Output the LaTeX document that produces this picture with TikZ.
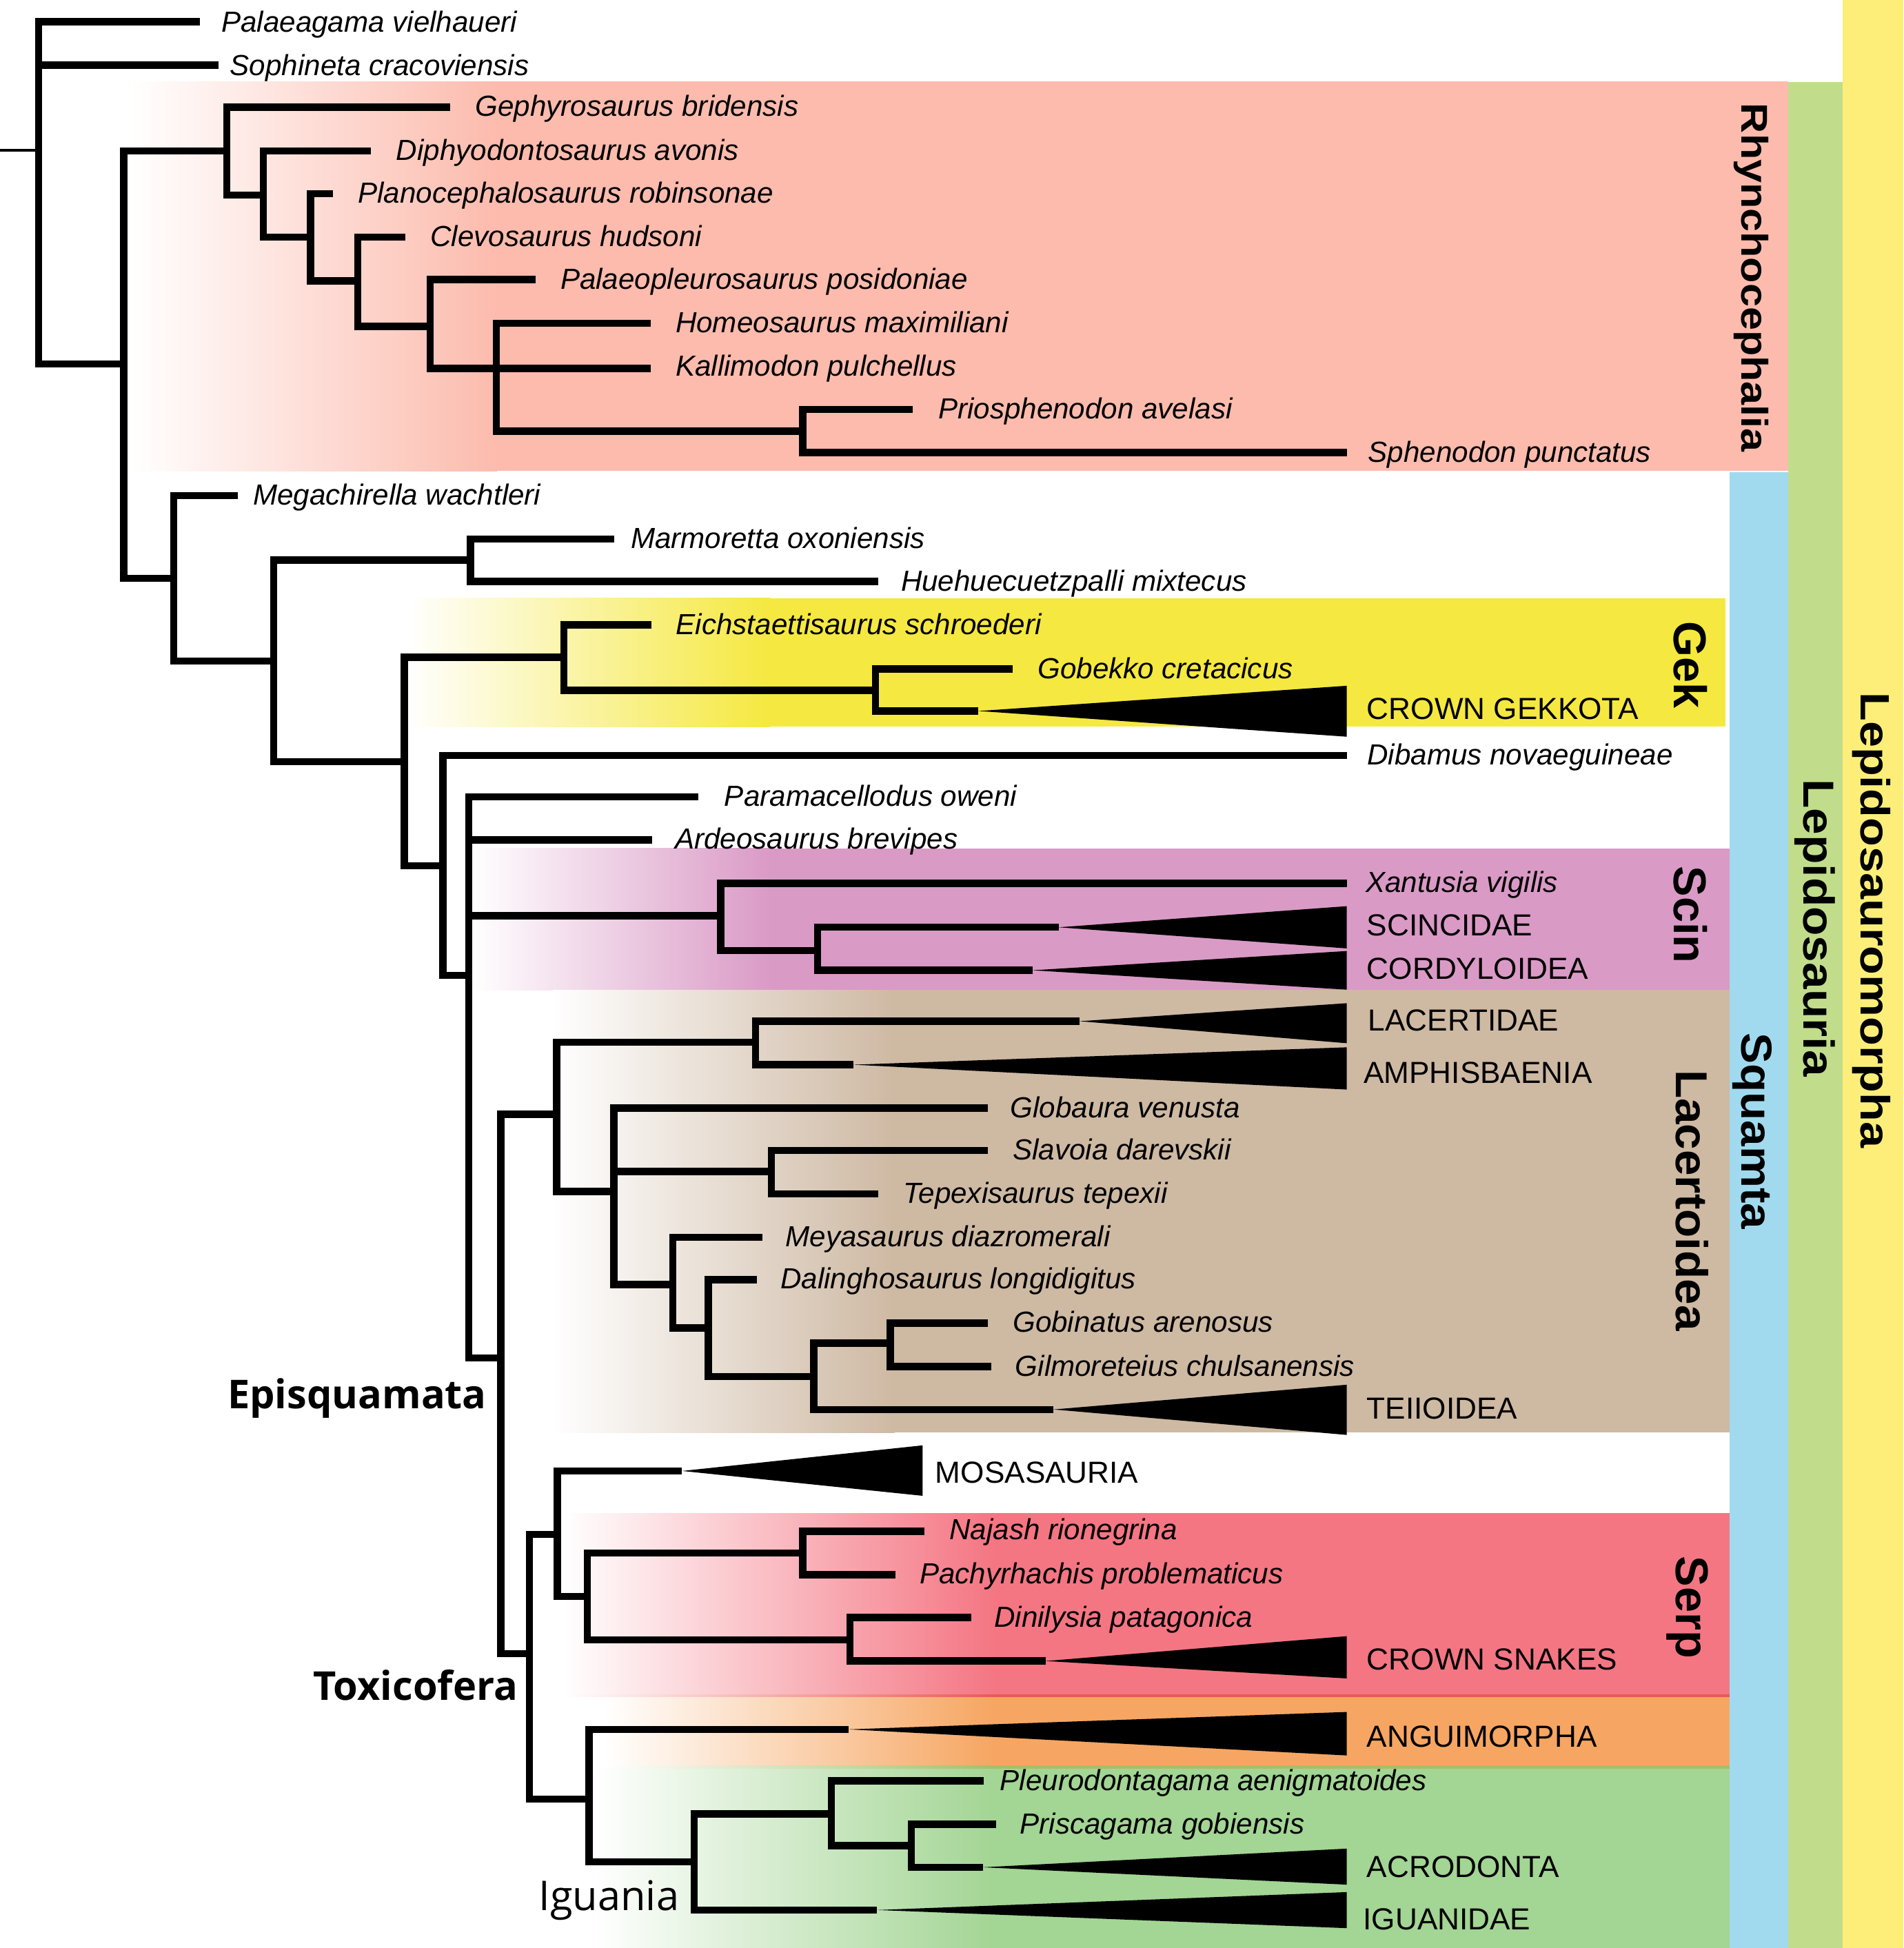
\documentclass[tikz,border=0pt]{standalone}
\usepackage{fontspec}
\setmainfont{Liberation Sans}
\newfontfamily\myr{Open Sans}
\usepackage{graphicx}
\begin{document}
\begin{tikzpicture}[x=1pt,y=-1pt]
\definecolor{cLmo}{RGB}{252,238,120}
\definecolor{cLep}{RGB}{193,221,140}
\definecolor{cSq}{RGB}{161,218,238}
\definecolor{cRhy}{RGB}{252,187,173}
\definecolor{cGek}{RGB}{245,232,64}
\definecolor{cSci}{RGB}{218,154,198}
\definecolor{cLac}{RGB}{206,185,163}
\definecolor{cSer}{RGB}{244,118,131}
\definecolor{cAng}{RGB}{246,166,98}
\definecolor{cIgu}{RGB}{163,213,148}
\definecolor{cRedL}{RGB}{236,88,84}
\definecolor{cOliv}{RGB}{168,190,106}
\tikzset{
  br/.style={line width=5.8pt, line join=miter},
  tri/.style={fill=black},
  tx/.style={anchor=base west, inner sep=0pt, font=\fontsize{23.4}{28}\selectfont\itshape},
  up/.style={anchor=base west, inner sep=0pt, font=\fontsize{24.5}{28}\selectfont},
  vl/.style={anchor=base west, inner sep=0pt, rotate=-90},
  grp/.style={anchor=base west, inner sep=0pt, font=\myr\fontsize{32}{36}\selectfont\bfseries}
}
\useasboundingbox (0,0) rectangle (1532,1568);
% ---------- backgrounds ----------
\fill[cLmo] (1483,0) rectangle (1532,1568);
\fill[cLep] (1439,66) rectangle (1483,1568);
\fill[cSq] (1392,380) rectangle (1439,1568);
\shade[left color=white,right color=cRhy] (105,65.5) rectangle (400,379);
\fill[cRhy] (399.5,65.5) rectangle (1439,379);
\shade[left color=white,right color=cGek] (326.5,481.5) rectangle (620,585);
\fill[cGek] (619.5,481.5) rectangle (1389,585);
\shade[left color=white,right color=cSci] (380,683) rectangle (620,797);
\fill[cSci] (619.5,683) rectangle (1392,797);
\shade[left color=white,right color=cLac] (445,797) rectangle (720,1153);
\fill[cLac] (719.5,797) rectangle (1392,1153);
\shade[left color=white,right color=cSer] (453,1218) rectangle (800,1365);
\fill[cSer] (799.5,1218) rectangle (1392,1365);
\shade[left color=white,right color=cAng] (486,1365) rectangle (800,1422);
\fill[cAng] (799.5,1365) rectangle (1392,1422);
\shade[left color=white,right color=cIgu] (478,1422) rectangle (800,1568);
\fill[cIgu] (799.5,1422) rectangle (1392,1568);
\shade[left color=white,right color=cRedL] (453,1364) rectangle (800,1366);
\fill[cRedL] (799.5,1364) rectangle (1392,1366);
\shade[left color=white,right color=cOliv] (486,1421) rectangle (800,1423.5);
\fill[cOliv] (799.5,1421) rectangle (1392,1423.5);
% ---------- coordinates ----------
\coordinate (stub) at (0,121);
\coordinate (r0) at (31,121);
\coordinate (palae) at (161,17.4);
\coordinate (soph) at (176,52.5);
\coordinate (lp) at (99.5,293);
\coordinate (rh) at (182.5,121.4);
\coordinate (geph) at (362.3,86.4);
\coordinate (r2) at (212,157);
\coordinate (diph) at (298.6,121.4);
\coordinate (r3) at (250,191);
\coordinate (plan) at (268,156);
\coordinate (r4) at (288,226);
\coordinate (clev) at (326.5,191);
\coordinate (r5) at (346.3,262.7);
\coordinate (ppleu) at (431.2,225);
\coordinate (r6) at (399.4,296.5);
\coordinate (home) at (524,260.3);
\coordinate (kall) at (524,296.5);
\coordinate (r7) at (646,347);
\coordinate (prio) at (734.8,329.6);
\coordinate (sphe) at (1084,364.3);
\coordinate (sq) at (139.8,465.5);
\coordinate (mega) at (191.5,399);
\coordinate (s2) at (220.3,532);
\coordinate (s3) at (378.6,450.7);
\coordinate (marm) at (494.5,433.8);
\coordinate (hueh) at (706.7,468);
\coordinate (s4) at (325.5,613);
\coordinate (g1) at (453.8,529);
\coordinate (eich) at (524.5,503);
\coordinate (g2) at (704.6,555.7);
\coordinate (gobe) at (815,538.4);
\coordinate (cga) at (787.5,572.3);
\coordinate (s5) at (356.5,697);
\coordinate (diba) at (1084,608);
\coordinate (s6) at (377.3,785);
\coordinate (para) at (562,641.5);
\coordinate (arde) at (525,676);
\coordinate (sc1) at (580,737);
\coordinate (xant) at (1084,711);
\coordinate (sc2) at (658,765);
\coordinate (scia) at (852,746.4);
\coordinate (cora) at (831,781);
\coordinate (e1) at (403,1093);
\coordinate (l1) at (448,897);
\coordinate (l2) at (608,839);
\coordinate (laca) at (869,822);
\coordinate (amph) at (687,857);
\coordinate (l3) at (494,959);
\coordinate (glob) at (795,892);
\coordinate (l4) at (621,943);
\coordinate (slav) at (795,926);
\coordinate (tepe) at (707,961);
\coordinate (l5) at (541.5,1034);
\coordinate (meya) at (613.5,996);
\coordinate (l6) at (570,1069);
\coordinate (dali) at (609,1030);
\coordinate (l7) at (655,1108);
\coordinate (l8) at (716.5,1081);
\coordinate (gobi) at (795,1065);
\coordinate (gilm) at (797.7,1100);
\coordinate (teia) at (848,1134.5);
\coordinate (t1) at (426,1331);
\coordinate (t2) at (448.7,1235);
\coordinate (mosa) at (549,1184);
\coordinate (sp1) at (472.6,1285);
\coordinate (sp2) at (646,1250);
\coordinate (naja) at (744,1232.7);
\coordinate (pach) at (721,1267.5);
\coordinate (sp3) at (684,1320);
\coordinate (dini) at (781.7,1302);
\coordinate (csa) at (841.5,1337);
\coordinate (t3) at (474,1448);
\coordinate (anga) at (683,1392);
\coordinate (i1) at (558.6,1498.6);
\coordinate (i2) at (669,1460);
\coordinate (pleu) at (792,1433.5);
\coordinate (i3) at (733.5,1485.7);
\coordinate (pris) at (801.5,1468.5);
\coordinate (acra) at (791,1503);
\coordinate (igua) at (705.8,1537.4);
% ---------- branches ----------
\draw[line width=2pt] (stub) -- (r0);
\draw[br] (r0) |- (palae);
\draw[br] (r0) |- (soph);
\draw[br] (r0) |- (lp);
\draw[br] (lp) |- (rh);
\draw[br] (lp) |- (sq);
\draw[br] (rh) |- (geph);
\draw[br] (rh) |- (r2);
\draw[br] (r2) |- (diph);
\draw[br] (r2) |- (r3);
\draw[br] (r3) |- (plan);
\draw[br] (r3) |- (r4);
\draw[br] (r4) |- (clev);
\draw[br] (r4) |- (r5);
\draw[br] (r5) |- (ppleu);
\draw[br] (r5) |- (r6);
\draw[br] (r6) |- (home);
\draw[br] (r6) |- (kall);
\draw[br] (r6) |- (r7);
\draw[br] (r7) |- (prio);
\draw[br] (r7) |- (sphe);
\draw[br] (sq) |- (mega);
\draw[br] (sq) |- (s2);
\draw[br] (s2) |- (s3);
\draw[br] (s2) |- (s4);
\draw[br] (s3) |- (marm);
\draw[br] (s3) |- (hueh);
\draw[br] (s4) |- (g1);
\draw[br] (s4) |- (s5);
\draw[br] (g1) |- (eich);
\draw[br] (g1) |- (g2);
\draw[br] (g2) |- (gobe);
\draw[br] (g2) |- (cga);
\draw[br] (s5) |- (diba);
\draw[br] (s5) |- (s6);
\draw[br] (s6) |- (para);
\draw[br] (s6) |- (arde);
\draw[br] (s6) |- (sc1);
\draw[br] (s6) |- (e1);
\draw[br] (sc1) |- (xant);
\draw[br] (sc1) |- (sc2);
\draw[br] (sc2) |- (scia);
\draw[br] (sc2) |- (cora);
\draw[br] (e1) |- (l1);
\draw[br] (e1) |- (t1);
\draw[br] (l1) |- (l2);
\draw[br] (l1) |- (l3);
\draw[br] (l2) |- (laca);
\draw[br] (l2) |- (amph);
\draw[br] (l3) |- (glob);
\draw[br] (l3) |- (l4);
\draw[br] (l3) |- (l5);
\draw[br] (l4) |- (slav);
\draw[br] (l4) |- (tepe);
\draw[br] (l5) |- (meya);
\draw[br] (l5) |- (l6);
\draw[br] (l6) |- (dali);
\draw[br] (l6) |- (l7);
\draw[br] (l7) |- (l8);
\draw[br] (l7) |- (teia);
\draw[br] (l8) |- (gobi);
\draw[br] (l8) |- (gilm);
\draw[br] (t1) |- (t2);
\draw[br] (t1) |- (t3);
\draw[br] (t2) |- (mosa);
\draw[br] (t2) |- (sp1);
\draw[br] (sp1) |- (sp2);
\draw[br] (sp1) |- (sp3);
\draw[br] (sp2) |- (naja);
\draw[br] (sp2) |- (pach);
\draw[br] (sp3) |- (dini);
\draw[br] (sp3) |- (csa);
\draw[br] (t3) |- (anga);
\draw[br] (t3) |- (i1);
\draw[br] (i1) |- (i2);
\draw[br] (i1) |- (igua);
\draw[br] (i2) |- (pleu);
\draw[br] (i2) |- (i3);
\draw[br] (i3) |- (pris);
\draw[br] (i3) |- (acra);
% ---------- collapsed clades ----------
\fill[tri] (cga) -- (1084,552) -- (1084,593) -- cycle;
\fill[tri] (scia) -- (1084,729.4) -- (1084,763.4) -- cycle;
\fill[tri] (cora) -- (1084,765.5) -- (1084,796.6) -- cycle;
\fill[tri] (laca) -- (1084,807.5) -- (1084,839.7) -- cycle;
\fill[tri] (amph) -- (1084,843) -- (1084,877) -- cycle;
\fill[tri] (teia) -- (1084,1114.6) -- (1084,1155) -- cycle;
\fill[tri] (mosa) -- (742.6,1163.4) -- (742.6,1204) -- cycle;
\fill[tri] (csa) -- (1084,1317) -- (1084,1351) -- cycle;
\fill[tri] (anga) -- (1084,1378) -- (1084,1413) -- cycle;
\fill[tri] (acra) -- (1084,1488) -- (1084,1517) -- cycle;
\fill[tri] (igua) -- (1084,1523) -- (1084,1552) -- cycle;
% ---------- taxon labels ----------
\node[tx] (Lpalae) at (178,26) {Palaeagama vielhaueri};
\node[tx] (Lsoph) at (185,60.5) {Sophineta cracoviensis};
\node[tx] (Lgeph) at (382.4,93.5) {Gephyrosaurus bridensis};
\node[tx] (Ldiph) at (318.7,129) {Diphyodontosaurus avonis};
\node[tx] (Lplan) at (288,163.5) {Planocephalosaurus robinsonae};
\node[tx] (Lclev) at (346.3,198.5) {Clevosaurus hudsoni};
\node[tx] (Lppleu) at (450.9,232.5) {Palaeopleurosaurus posidoniae};
\node[tx] (Lhome) at (543.6,267.8) {Homeosaurus maximiliani};
\node[tx] (Lkall) at (543.6,302.5) {Kallimodon pulchellus};
\node[tx] (Lprio) at (755,337) {Priosphenodon avelasi};
\node[tx] (Lsphe) at (1101,372) {Sphenodon punctatus};
\node[tx] (Lmega) at (203.5,406.5) {Megachirella wachtleri};
\node[tx] (Lmarm) at (507.6,441.3) {Marmoretta oxoniensis};
\node[tx] (Lhueh) at (725,475.5) {Huehuecuetzpalli mixtecus};
\node[tx] (Leich) at (544,510.5) {Eichstaettisaurus schroederi};
\node[tx] (Lgobe) at (835,546) {Gobekko cretacicus};
\node[tx] (Ldiba) at (1100.3,615.5) {Dibamus novaeguineae};
\node[tx] (Lpara) at (582.9,649) {Paramacellodus oweni};
\node[tx] (Larde) at (543,683.5) {Ardeosaurus brevipes};
\node[tx] (Lxant) at (1099,718.5) {Xantusia vigilis};
\node[tx] (Lglob) at (813,899.5) {Globaura venusta};
\node[tx] (Lslav) at (815,933.5) {Slavoia darevskii};
\node[tx] (Ltepe) at (727,968.5) {Tepexisaurus tepexii};
\node[tx] (Lmeya) at (632,1003.5) {Meyasaurus diazromerali};
\node[tx] (Ldali) at (628,1037.5) {Dalinghosaurus longidigitus};
\node[tx] (Lgobi) at (815,1072.5) {Gobinatus arenosus};
\node[tx] (Lgilm) at (817,1107.5) {Gilmoreteius chulsanensis};
\node[tx] (Lnaja) at (764,1239) {Najash rionegrina};
\node[tx] (Lpach) at (740,1275) {Pachyrhachis problematicus};
\node[tx] (Ldini) at (800,1309.5) {Dinilysia patagonica};
\node[tx] (Lpleu) at (804.7,1441) {Pleurodontagama aenigmatoides};
\node[tx] (Lpris) at (820.8,1476) {Priscagama gobiensis};
% ---------- collapsed-clade labels ----------
\node[up] (Lcg) at (1100,579) {CROWN GEKKOTA};
\node[up] (Lsci) at (1100,753) {SCINCIDAE};
\node[up] (Lcor) at (1100,788) {CORDYLOIDEA};
\node[up] (Llac) at (1101,829.5) {LACERTIDAE};
\node[up] (Lamp) at (1097.4,872) {AMPHISBAENIA};
\node[up] (Ltei) at (1100,1142) {TEIIOIDEA};
\node[up] (Lmos) at (752.7,1194) {MOSASAURIA};
\node[up] (Lcs) at (1100,1344) {CROWN SNAKES};
\node[up] (Lang) at (1100,1406) {ANGUIMORPHA};
\node[up] (Lacr) at (1100,1511) {ACRODONTA};
\node[up] (Ligu) at (1097,1553) {IGUANIDAE};
% ---------- group labels ----------
\node[grp] (Lepi) at (183,1134) {Episquamata};
\node[grp] (Ltox) at (252,1368.5) {Toxicofera};
\node[anchor=base west, inner sep=0pt, font=\myr\fontsize{33}{36}\selectfont] (Liguania) at (433.5,1537.5) {Iguania};
% ---------- vertical clade labels ----------
\node[vl, font=\fontsize{30}{30}\selectfont\bfseries] (Vrhy) at (1402,83) {\scalebox{1.13}[1]{Rhynchocephalia}};
\node[vl, font=\fontsize{33}{33}\selectfont\bfseries] (Vlmo) at (1497.7,557) {\scalebox{1.15}[1]{Lepidosauromorpha}};
\node[vl, font=\fontsize{35}{35}\selectfont\bfseries] (Vlep) at (1451.5,627) {\scalebox{1.1}[1]{Lepidosauria}};
\node[vl, font=\fontsize{35}{35}\selectfont\bfseries] (Vsq) at (1401.6,831) {\scalebox{1.07}[1]{Squamta}};
\node[vl, font=\fontsize{37}{37}\selectfont\bfseries] (Vgek) at (1347.6,500) {Gek};
\node[vl, font=\fontsize{37}{37}\selectfont\bfseries] (Vsci) at (1347.6,697) {Scin};
\node[vl, font=\fontsize{36}{36}\selectfont\bfseries] (Vlac) at (1349,861) {\scalebox{1.04}[1]{Lacertoidea}};
\node[vl, font=\fontsize{37}{37}\selectfont\bfseries] (Vser) at (1349,1252.5) {Serp};
\end{tikzpicture}
\end{document}
